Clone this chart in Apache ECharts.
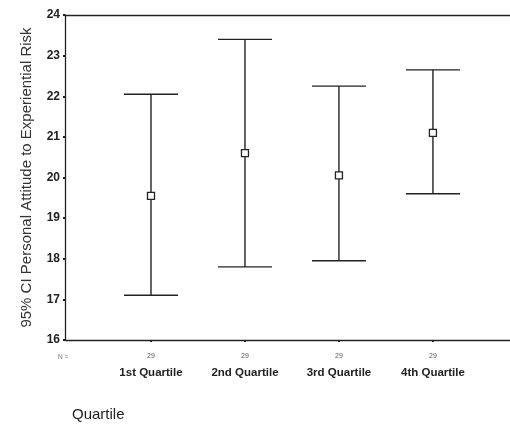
<!DOCTYPE html>
<html>
<head>
<meta charset="utf-8">
<script src="https://cdn.jsdelivr.net/npm/echarts@6/dist/echarts.min.js"></script>
<style>
  html, body { margin: 0; padding: 0; background: #fff; }
  #chart { width: 510px; height: 425px; }
</style>
</head>
<body>
<div id="chart"></div>
<script>
// data
var categories = ['1st Quartile', '2nd Quartile', '3rd Quartile', '4th Quartile'];
var nCounts = [29, 29, 29, 29];
var means = [19.55, 20.6, 20.05, 21.1];
var lower = [17.1, 17.8, 17.95, 19.6];
var upper = [22.05, 23.4, 22.25, 22.65];
var yTicks = [16, 17, 18, 19, 20, 21, 22, 23, 24];

var myChart = echarts.init(document.getElementById('chart'));

var ink = '#222';
var xMin = 0.085, xMax = 4.82;

var ciData = categories.map(function (c, i) {
    return [i + 1, lower[i], upper[i], means[i]];
});

var option = {
    backgroundColor: '#fff',
    animation: false,
    grid: {
        left: 65,
        top: 15,
        right: 0,
        bottom: 85
    },
    xAxis: [{
        type: 'value',
        min: xMin,
        max: xMax,
        splitLine: { show: false },
        axisLine: { show: true, lineStyle: { color: ink, width: 1.3 } },
        axisTick: {
            show: true,
            customValues: [1, 2, 3, 4],
            length: 2,
            inside: false,
            lineStyle: { color: ink, width: 2 }
        },
        axisLabel: {
            customValues: [1, 2, 3, 4],
            margin: 9,
            formatter: function (v) {
                var i = Math.round(v) - 1;
                return '{n|' + nCounts[i] + '}\n{c|' + categories[i] + '}';
            },
            rich: {
                n: { fontFamily: 'Liberation Sans', fontSize: 7, color: '#555', lineHeight: 14 },
                c: { fontFamily: 'Liberation Sans', fontSize: 11.5, fontWeight: 'bold', color: '#222', lineHeight: 20 }
            }
        }
    }, {
        // top frame line only
        type: 'value',
        position: 'top',
        min: xMin,
        max: xMax,
        splitLine: { show: false },
        axisLine: { show: true, lineStyle: { color: ink, width: 1.3 } },
        axisTick: { show: false },
        axisLabel: { show: false }
    }],
    yAxis: {
        type: 'value',
        min: 16,
        max: 24,
        interval: 1,
        splitLine: { show: false },
        axisLine: { show: true, lineStyle: { color: ink, width: 1.3 } },
        axisTick: { show: true, length: 2, lineStyle: { color: ink, width: 2 } },
        axisLabel: {
            margin: 5,
            fontFamily: 'Liberation Sans',
            fontSize: 12,
            fontWeight: 'bold',
            color: '#222',
            formatter: function (v) { return yTicks.indexOf(v) >= 0 ? String(v) : ''; }
        },
        name: '95% CI Personal Attitude to Experiential Risk',
        nameLocation: 'middle',
        nameGap: 31,
        nameTextStyle: { fontFamily: 'Liberation Sans', fontSize: 15, color: '#333' }
    },
    graphic: [
        {
            type: 'text', left: 58, top: 354,
            style: { text: 'N =', fontFamily: 'Liberation Sans', fontSize: 6.5, fill: '#777' }
        },
        {
            type: 'text', left: 72, top: 407,
            style: { text: 'Quartile', fontFamily: 'Liberation Sans', fontSize: 15, fill: '#222' }
        }
    ],
    series: [{
        type: 'custom',
        xAxisIndex: 0,
        data: ciData,
        renderItem: function (params, api) {
            var x = api.value(0);
            var lo = api.coord([x, api.value(1)]);
            var hi = api.coord([x, api.value(2)]);
            var mid = api.coord([x, api.value(3)]);
            var half = 27, box = 3.5;
            var st = { stroke: ink, lineWidth: 1.4 };
            return {
                type: 'group',
                children: [
                    { type: 'line', shape: { x1: lo[0], y1: lo[1], x2: hi[0], y2: hi[1] }, style: st },
                    { type: 'line', shape: { x1: hi[0] - half, y1: hi[1], x2: hi[0] + half, y2: hi[1] }, style: st },
                    { type: 'line', shape: { x1: lo[0] - half, y1: lo[1], x2: lo[0] + half, y2: lo[1] }, style: st },
                    { type: 'rect', shape: { x: mid[0] - box, y: mid[1] - box, width: box * 2, height: box * 2 },
                      style: { fill: '#fff', stroke: ink, lineWidth: 1.3 } }
                ]
            };
        }
    }]
};

myChart.setOption(option);
</script>
</body>
</html>
